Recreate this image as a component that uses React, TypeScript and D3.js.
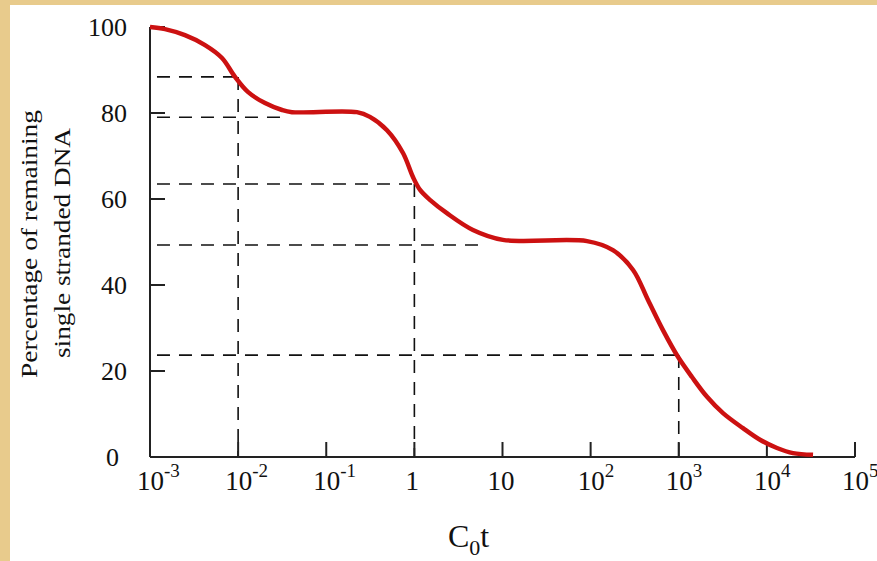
import React from "react";
import * as d3 from "d3";

const cotValues = [0.001, 0.00148, 0.00249, 0.00421, 0.00656, 0.00922, 0.0129, 0.0202, 0.0315, 0.0409, 0.223, 0.313, 0.489, 0.743, 0.964, 1.16, 1.5, 2.34, 4.62, 10.1, 91.0, 179, 303, 448, 662, 979, 1413, 2093, 3179, 5358, 8356, 13030, 19810, 33420];
const percentValues = [100, 99.5, 98.1, 95.8, 92.8, 88.4, 84.9, 82.3, 80.7, 80.2, 80.2, 79.1, 76.0, 70.7, 65.1, 62.1, 59.8, 56.7, 52.8, 50.5, 50.2, 48.1, 43.5, 36.5, 29.5, 23.3, 18.6, 14.0, 10.2, 6.7, 4.0, 2.1, 0.9, 0.5];

const yTicks = [0, 20, 40, 60, 80, 100];
const xTickExps = [-3, -2, -1, 0, 1, 2, 3, 4, 5];

// reference (dashed) lines
const hLineLevels = [88.4, 79, 63.5, 49.3, 23.7];
const hLineEnds = [0.01, 0.034, 1, 6.3, 1000];
const vLineAt = [0.01, 1, 1000];
const vLineTops = [88.4, 63.5, 23.7];

const W = 877;
const H = 561;

export default function App() {
  const x = d3.scaleLog().domain([1e-3, 1e5]).range([150, 855]);
  const y = d3.scaleLinear().domain([0, 100]).range([457, 27]);
  const line = d3
    .line<number>()
    .x((_, i) => x(cotValues[i]))
    .y((d) => y(d))
    .curve(d3.curveCatmullRom.alpha(0.5));
  const path = line(percentValues) || "";
  const dashStart = x(0.00120);
  const font = "'Liberation Serif', 'Times New Roman', serif";
  const dash = "13,9";
  return (
    <svg width={W} height={H} style={{ position: "absolute", left: 0, top: 0 }} fontFamily={font}>
      <rect x={0} y={0} width={W} height={H} fill="#e8cb8c" />
      <rect x={10} y={5} width={W - 10} height={H - 5} fill="#ffffff" />
      {/* dashed reference lines */}
      {hLineLevels.map((v, i) => (
        <line key={"h" + i} x1={dashStart} x2={x(hLineEnds[i])} y1={y(v)} y2={y(v)} stroke="#111" strokeWidth={1.6} strokeDasharray={dash} />
      ))}
      {vLineAt.map((v, i) => (
        <line key={"v" + i} x1={x(v)} x2={x(v)} y1={y(vLineTops[i])} y2={y(0)} stroke="#111" strokeWidth={1.6} strokeDasharray={dash} />
      ))}
      {/* axes */}
      <line x1={x(1e-3)} x2={x(1e-3)} y1={y(100)} y2={y(0)} stroke="#222" strokeWidth={2} />
      <line x1={x(1e-3)} x2={x(1e5)} y1={y(0)} y2={y(0)} stroke="#222" strokeWidth={2} />
      {yTicks.filter((t) => t > 0).map((t) => (
        <line key={"yt" + t} x1={x(1e-3)} x2={x(1e-3) + 15} y1={y(t)} y2={y(t)} stroke="#222" strokeWidth={2} />
      ))}
      {xTickExps.filter((e) => e > -3).map((e) => (
        <line key={"xt" + e} x1={x(Math.pow(10, e))} x2={x(Math.pow(10, e))} y1={y(0)} y2={y(0) - 15} stroke="#222" strokeWidth={2} />
      ))}
      {/* curve */}
      <path d={path} fill="none" stroke="#cc1111" strokeWidth={4.5} strokeLinecap="butt" strokeLinejoin="round" />
      {/* y tick labels */}
      {yTicks.map((t) => (
        <text key={"yl" + t} x={t === 0 ? 119 : 127} y={y(t) + 9} fontSize={26} textAnchor="end" fill="#111">
          {t}
        </text>
      ))}
      {/* x tick labels */}
      {xTickExps.map((e) => {
        const px = x(Math.pow(10, e));
        if (e === 0) {
          return (
            <text key={"xl" + e} x={px - 9} y={490} fontSize={27} fill="#111">1</text>
          );
        }
        if (e === 1) {
          return (
            <text key={"xl" + e} x={px - 15} y={490} fontSize={27} fill="#111">10</text>
          );
        }
        return (
          <text key={"xl" + e} x={px - 13} y={490} fontSize={27} fill="#111">
            10
            <tspan fontSize={19} dy={-13}>{String(e)}</tspan>
          </text>
        );
      })}
      {/* x axis title */}
      <text x={448} y={547} fontSize={32} fill="#111">
        C<tspan fontSize={22} dy={8}>0</tspan><tspan dy={-8}>t</tspan>
      </text>
      {/* y axis title */}
      <text transform="translate(37,244) rotate(-90)" fontSize={24} textAnchor="middle" textLength={268} lengthAdjust="spacingAndGlyphs" fill="#111">
        Percentage of remaining
      </text>
      <text transform="translate(70,243) rotate(-90)" fontSize={24} textAnchor="middle" textLength={230} lengthAdjust="spacingAndGlyphs" fill="#111">
        single stranded DNA
      </text>
    </svg>
  );
}
